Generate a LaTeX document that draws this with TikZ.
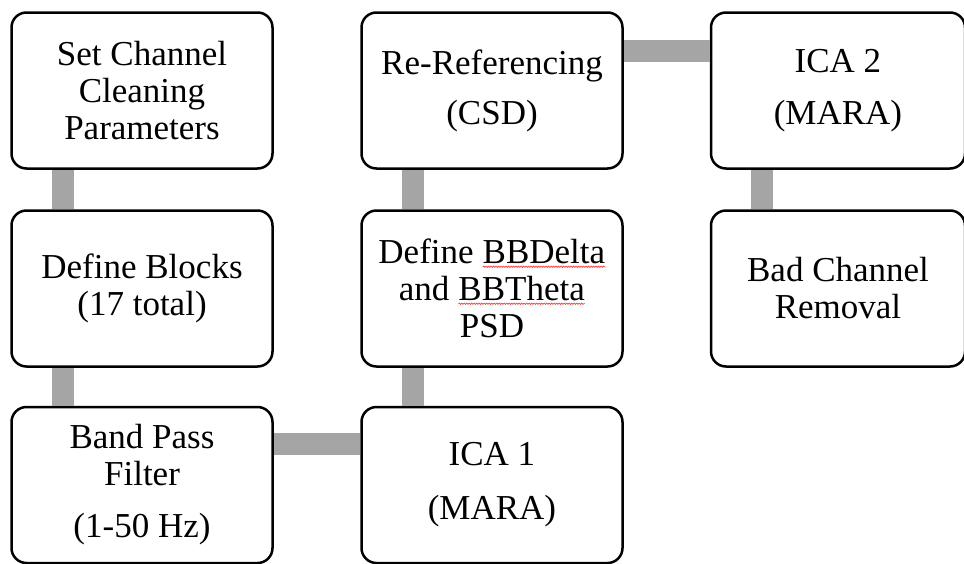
\documentclass[tikz,border=0pt]{standalone}
\usepackage{fontspec}
\setmainfont{Liberation Serif}
\usetikzlibrary{decorations.pathmorphing}
\definecolor{linkgray}{HTML}{A5A5A5}
\tikzset{every path/.style={thick},
  stage/.style={draw, line width=2.5pt, rounded corners=15pt, fill=white,
    minimum width=261pt, minimum height=156pt, inner sep=0pt, align=center,
    font=\fontsize{35}{37}\selectfont},
  link/.style={draw=linkgray, line width=22pt},
  wavyline/.style={draw=red!85, fill=none, sharp corners, line width=0.6pt, decorate,
    decoration={snake, amplitude=0.7pt, segment length=2.5pt}}}
\newcommand{\wavy}[1]{\tikz[baseline=(w.base)]{\node[inner sep=0pt, outer sep=0pt, draw=none, fill=none,
  minimum width=0pt, minimum height=0pt, sharp corners] (w) {#1};
  \path[wavyline] ([yshift=-3pt]w.base west) -- ([yshift=-3pt]w.base east);}}

\begin{document}
\begin{tikzpicture}[x=1pt, y=-1pt]
\useasboundingbox (0,0) rectangle (964,563);
\node[stage] (params) at (142,90.5) {Set Channel\\Cleaning\\Parameters};
\node[stage] (blocks) at (142,288.5) {Define Blocks\\(17 total)};
\node[stage] (bandpass) at (142,485) {Band Pass\\Filter\\[15pt](1-50 Hz)};
\node[stage] (ica1) at (492,485) {ICA 1\\[17pt](MARA)};
\node[stage] (psd) at (492,288.5) {Define \wavy{BBDelta}\\and \wavy{BBTheta}\\PSD};
\node[stage] (reref) at (492,90.5) {Re-Referencing\\[13pt](CSD)};
\node[stage, minimum width=254pt] (ica2) at (838,90.5) {ICA 2\\[15pt](MARA)};
\node[stage, minimum width=254pt] (badchan) at (838,288.5) {Bad Channel\\Removal};
\draw[link] ([xshift=-79pt]params.south) -- ([xshift=-79pt]blocks.north);
\draw[link] ([xshift=-79pt]blocks.south) -- ([xshift=-79pt]bandpass.north);
\draw[link] ([yshift=41pt]bandpass.east) -- ([yshift=41pt]ica1.west);
\draw[link] ([xshift=-79pt]ica1.north) -- ([xshift=-79pt]psd.south);
\draw[link] ([xshift=-79pt]psd.north) -- ([xshift=-79pt]reref.south);
\draw[link] ([yshift=40pt]reref.east) -- ([yshift=40pt]ica2.west);
\draw[link] ([xshift=-76pt]ica2.south) -- ([xshift=-76pt]badchan.north);
\end{tikzpicture}
\end{document}
